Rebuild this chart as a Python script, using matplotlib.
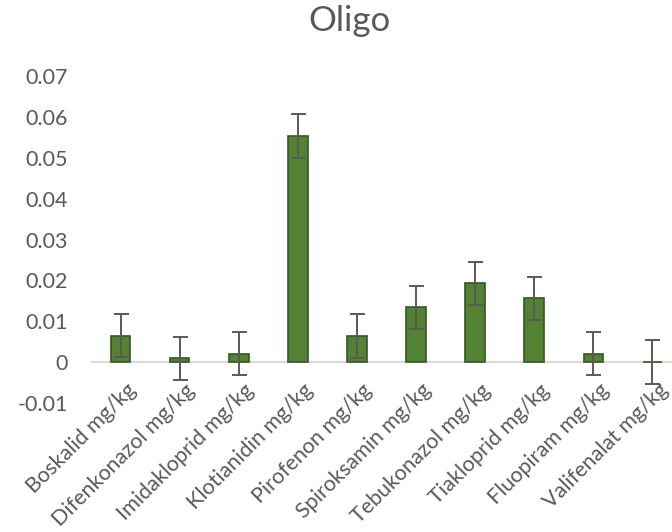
import matplotlib
matplotlib.use("Agg")
import matplotlib.pyplot as plt
import matplotlib.transforms as mtransforms
import numpy as np

plt.rcParams['font.family'] = ['Lato', 'DejaVu Sans']

categories = ["Boskalid mg/kg", "Difenkonazol mg/kg", "Imidakloprid mg/kg",
              "Klotianidin mg/kg", "Pirofenon mg/kg", "Spiroksamin mg/kg",
              "Tebukonazol mg/kg", "Tiakloprid mg/kg", "Fluopiram mg/kg",
              "Valifenalat mg/kg"]
values = [0.0065, 0.0009, 0.0021, 0.0553, 0.0064, 0.0134, 0.0193, 0.0156, 0.0021, 0.0]
errors = [0.0053, 0.0053, 0.0053, 0.0053, 0.0053, 0.0053, 0.0053, 0.0053, 0.0053, 0.0053]
yticks = [-0.01, 0, 0.01, 0.02, 0.03, 0.04, 0.05, 0.06, 0.07]
ytick_labels = ["-0.01", "0", "0.01", "0.02", "0.03", "0.04", "0.05", "0.06", "0.07"]

W, H = 672, 532
fig = plt.figure(figsize=(W / 100, H / 100), dpi=100)
ax = fig.add_axes([91 / W, (H - 403) / H, (682 - 91) / W, (403 - 76) / H])

text_color = "#595959"
x = np.arange(len(categories))
ax.bar(x, values, width=0.33, color="#548235", edgecolor="#375623", linewidth=1.2, zorder=3)
ax.errorbar(x, values, yerr=errors, fmt="none", ecolor=text_color, elinewidth=1.4,
            capsize=5.4, capthick=1.4, zorder=4)

ax.axhline(0, color="#d9d9d9", linewidth=1.5, zorder=2)
ax.set_xlim(-0.5, len(categories) - 0.5)
ax.set_ylim(-0.01, 0.07)
ax.set_yticks(yticks)
ax.set_yticklabels(ytick_labels)
ax.set_xticks([])
ax.tick_params(axis="both", length=0, colors=text_color, labelsize=15.5)
ax.tick_params(axis="y", pad=16.5)
for s in ax.spines.values():
    s.set_visible(False)

# category labels hang from the zero line, rotated 45 degrees
offset = mtransforms.ScaledTranslation(5 / 100, -18 / 100, fig.dpi_scale_trans)
for xi, label in zip(x, categories):
    ax.text(xi, 0, label, transform=ax.transData + offset, rotation=45,
            ha="right", va="top", rotation_mode="anchor", fontsize=15.5,
            color=text_color, clip_on=False)

fig.text(349 / W, 1 - 21 / H, "Oligo", ha="center", va="center", fontsize=25, color=text_color)

fig.savefig("out.png", dpi=100)
